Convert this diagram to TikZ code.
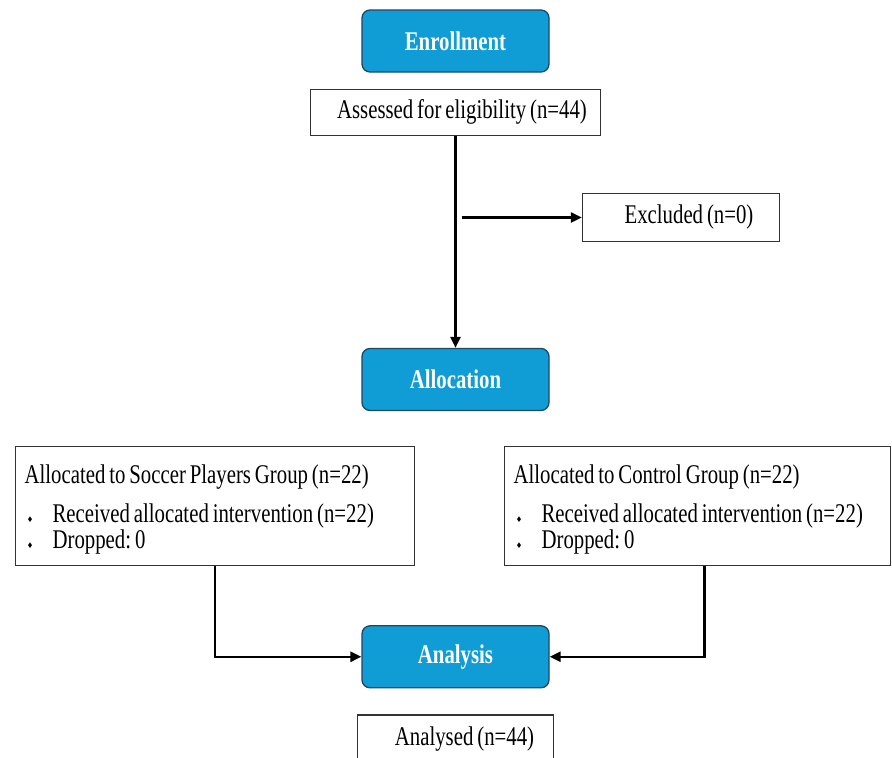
\documentclass[tikz,border=0pt]{standalone}
\usepackage{amssymb}
\usepackage{fontspec}
\setmainfont{Liberation Serif}[FakeStretch=0.77,WordSpace=0.75]
\usetikzlibrary{arrows.meta,positioning}
\definecolor{headblue}{RGB}{16,157,214}
\definecolor{headedge}{RGB}{28,72,98}
\frenchspacing
\tikzset{
  headbox/.style={draw=headedge, line width=1.3pt, rounded corners=8pt, fill=headblue, text=white, font=\fontsize{27}{30}\selectfont\bfseries, minimum width=187pt, minimum height=62pt, inner sep=0pt},
  infobox/.style={draw=black!80, line width=1.2pt, fill=white, font=\fontsize{27}{30}\selectfont, minimum height=46pt, inner sep=0pt},
  groupbox/.style={draw=black!80, line width=1.2pt, align=flush left, font=\fontsize{27}{26}\selectfont, minimum height=119pt, anchor=north west, inner xsep=9pt, inner ysep=0pt},
  flowline/.style={line width=2.5pt, draw=black},
  flowarrow/.style={flowline, -{Triangle[length=11pt,width=10pt]}}
}
\newcommand{\dmd}{\makebox[28pt][l]{\hspace{3pt}\raisebox{1pt}{\fontsize{6.5}{6.5}\selectfont$\blacklozenge$}}}
\newcommand{\topstrut}{\rule{0pt}{26pt}}

\begin{document}
\begin{tikzpicture}[x=1pt,y=-1pt]
\clip (0,0) rectangle (892,758);
\node[headbox] (enroll) at (455.5,41) {Enrollment};
\node[infobox,minimum width=290pt,below=16pt of enroll] (assess) {\hspace*{13pt}Assessed for eligibility (n=44)};
\node[infobox,minimum width=197pt,minimum height=48pt] (excl) at (681,217.5) {\hspace*{16pt}Excluded (n=0)};
\node[headbox,below=212pt of assess] (alloc) {Allocation};
\node[groupbox,text width=381pt] (soccer) at (15,446) {\topstrut Allocated to Soccer Players Group (n=22)\\[13pt] \dmd Received allocated intervention (n=22)\\ \dmd Dropped: 0};
\node[groupbox,text width=368pt] (ctrl) at (504,446) {\topstrut Allocated to Control Group (n=22)\\[13pt] \dmd Received allocated intervention (n=22)\\ \dmd Dropped: 0};
\node[headbox,below=214pt of alloc] (analysis) {Analysis};
\node[infobox,minimum width=196pt,minimum height=48pt,below=26pt of analysis] (analysed) {\hspace*{18pt}Analysed (n=44)};
% connectors
\draw[flowarrow] (assess) -- (alloc);
\draw[flowarrow] ([xshift=6pt]assess.south |- excl.west) -- (excl.west);
\draw[flowarrow] (soccer.south) |- (analysis.west);
\draw[flowarrow] ([xshift=7pt]ctrl.south) |- (analysis.east);
\end{tikzpicture}
\end{document}
